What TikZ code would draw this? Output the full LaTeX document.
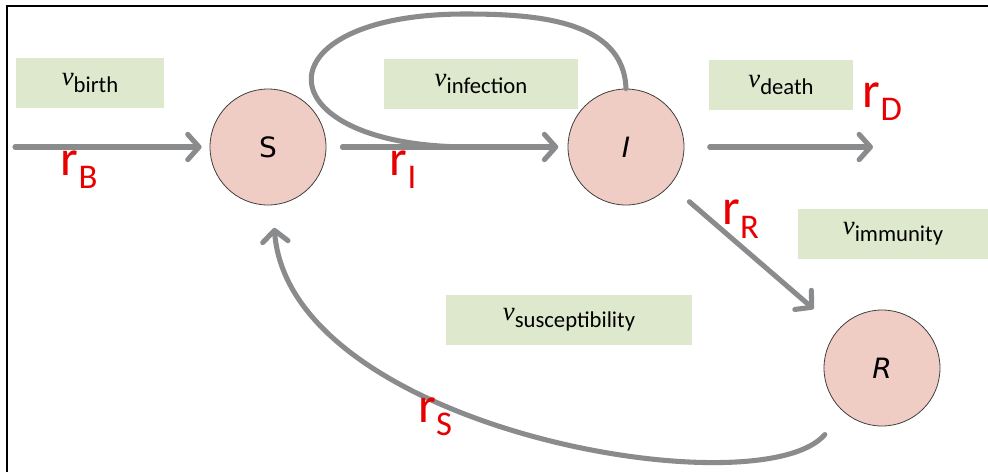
\documentclass[tikz,border=0pt]{standalone}
\usepackage{fontspec}
\setmainfont{Carlito}
\newfontfamily\vfont{Liberation Serif}
\newfontfamily\popfont{DejaVu Sans}
\usepackage{tikz}
\usetikzlibrary{arrows.meta}
\definecolor{flowgray}{RGB}{137,139,141}
\definecolor{boxgreen}{RGB}{222,232,205}
\definecolor{poppink}{RGB}{240,205,196}
\definecolor{ratered}{RGB}{232,0,0}
\newcommand{\vrate}[1]{{\vfont\itshape\fontsize{20}{20}\selectfont v}\raisebox{-5pt}{\fontsize{17}{17}\selectfont #1}}
\newcommand{\rrate}[1]{r\raisebox{-10pt}{\fontsize{26}{26}\selectfont #1}}

\begin{document}
\begin{tikzpicture}[x=0.75pt, y=0.75pt, >={Straight Barb[length=8.5pt,width=19pt,round]},
  pop/.style={circle, draw=black!75, line width=0.6pt, fill=poppink, minimum size=87pt, inner sep=0pt, font=\popfont\fontsize{21}{21}\selectfont},
  param/.style={fill=boxgreen, minimum height=38pt, inner sep=0pt, align=center},
  flow/.style={draw=flowgray, line width=3.8pt, line cap=round},
  rate/.style={text=ratered, font=\fontsize{38}{38}\selectfont, inner sep=1pt}]
\useasboundingbox (0,0) rectangle (988,-472);
\draw[line width=2pt] (7,-472) -- (7,-6) -- (988,-6);
% compartments
\node[pop] (S) at (268,-147) {S};
\node[pop] (I) at (626,-147) {\itshape I};
\node[pop] (R) at (882,-368) {\itshape R};
% parameters
\node[param, minimum width=111pt] (vbirth) at (90,-83)   {\vrate{birth}};
\node[param, minimum width=145pt] (vinf)   at (481,-84)  {\vrate{infection}};
\node[param, minimum width=108pt] (vdeath) at (781,-85)  {\vrate{death}};
\node[param, minimum width=143pt] (vimm)   at (893,-234) {\vrate{immunity}};
\node[param, minimum width=184pt] (vsus)   at (569,-320) {\vrate{susceptibility}};
\coordinate (inflow)  at (15,-147);
\coordinate (outflow) at (873,-147);
\coordinate (merge)   at (470,-147);
% flows
\draw[flow] (I.north) to[out=92,in=0] (465,-14) to[out=180,in=180,looseness=4] (merge);
\draw[flow,->, shorten >=6pt] (inflow) -- node[rate, pos=0.33, below]{\rrate{B}} (S);
\draw[flow,->, shorten <=12pt, shorten >=7pt] (S) -- node[rate, pos=0.318, below]{\rrate{I}} (I);
\draw[flow,->, shorten <=19pt] (I) -- node[rate, at end, above=17pt, xshift=7pt]{\rrate{D}} (outflow);
\draw[flow,->, shorten <=19pt, shorten >=24pt] (I) -- node[rate, pos=0.42, above=3pt]{\rrate{R}} (R);
\draw[flow,->, shorten <=22pt, shorten >=17pt] (R) .. controls (760,-510) and (290,-430) .. node[rate, pos=0.63, below]{\rrate{S}} (S);
\end{tikzpicture}
\end{document}
